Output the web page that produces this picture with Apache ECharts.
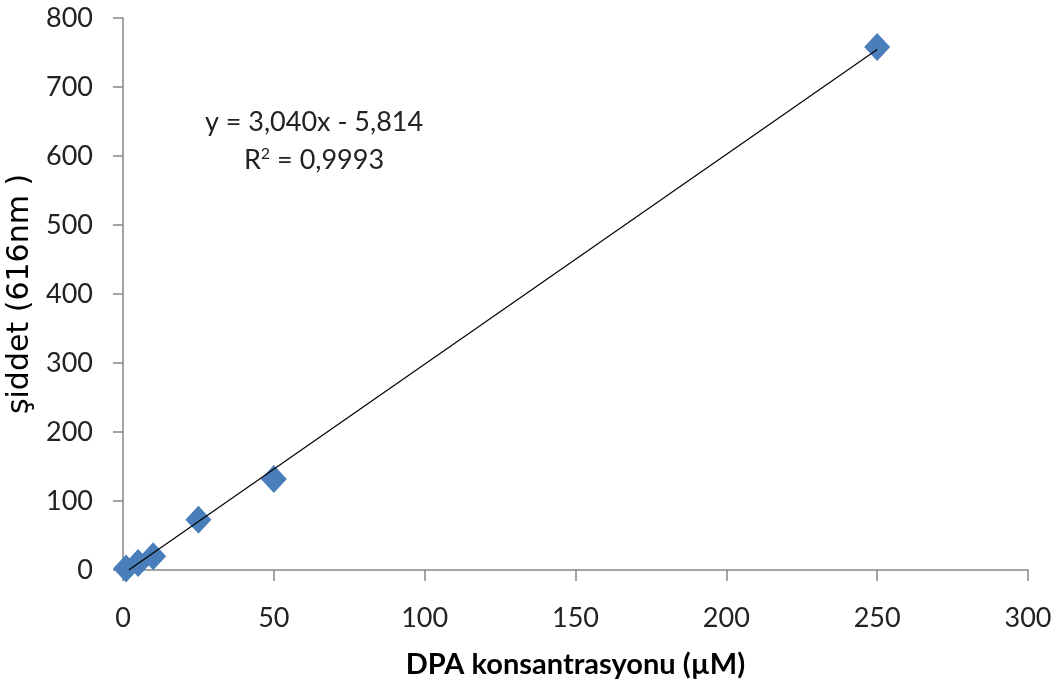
<!DOCTYPE html>
<html><head><meta charset="utf-8">
<script src="https://cdn.jsdelivr.net/npm/echarts@6/dist/echarts.min.js"></script>
<style>html,body{margin:0;padding:0;background:#fff}#c{width:1062px;height:692px}</style>
</head><body><div id="c"></div>
<script>
const concentrations = [1, 5, 10, 25, 50, 250];
const intensities = [2, 10, 20, 73, 132, 758];
const slope = 3.040, intercept = -5.814;
const trendX = [1.91, 250];
const equationLine1 = 'y = 3,040x - 5,814';
const equationLine2 = 'R{sup|2} = 0,9993';

const chart = echarts.init(document.getElementById('c'));
const axisCol = '#868686';
const font = 'Lato, "Open Sans", sans-serif';
chart.setOption({
  animation: false,
  grid: {left: 123, right: 34, top: 18, bottom: 122, containLabel: false, outerBoundsMode: 'none'},
  xAxis: {
    type: 'value', min: 0, max: 300, interval: 50,
    name: 'DPA konsantrasyonu (µM)', nameLocation: 'middle', nameGap: 80,
    nameTextStyle: {fontFamily: font, fontWeight: 'bold', fontSize: 29, color: '#000'},
    axisLine: {lineStyle: {color: axisCol, width: 1.5}},
    axisTick: {show: true, length: 11, lineStyle: {color: axisCol, width: 1.5}},
    axisLabel: {fontFamily: font, fontSize: 27, color: '#222', margin: 35},
    splitLine: {show: false}
  },
  yAxis: {
    type: 'value', min: 0, max: 800, interval: 100,
    name: 'şiddet (616nm )', nameLocation: 'middle', nameGap: 86,
    nameTextStyle: {fontFamily: '"DejaVu Sans", sans-serif', fontSize: 30, color: '#000'},
    axisLine: {show: true, lineStyle: {color: axisCol, width: 1.5}},
    axisTick: {show: true, length: 10, lineStyle: {color: axisCol, width: 1.5}},
    axisLabel: {fontFamily: font, fontSize: 27, color: '#222', margin: 30},
    splitLine: {show: false}
  },
  graphic: [{
    type: 'text', x: 314, y: 122,
    style: {text: equationLine1, fontFamily: font, fontSize: 27, fill: '#222', align: 'center', verticalAlign: 'middle'}
  }, {
    type: 'text', x: 314, y: 160,
    style: {
      text: equationLine2, fontFamily: font, fontSize: 27, fill: '#222', align: 'center', verticalAlign: 'middle',
      rich: {sup: {fontSize: 16, fontFamily: font, fill: '#222', verticalAlign: 'top', padding: [0, 0, 12, 0]}}
    }
  }],
  series: [{
    type: 'line', data: trendX.map(x => [x, slope * x + intercept]),
    showSymbol: false, symbol: 'none', lineStyle: {color: '#000', width: 1.2}, z: 3, silent: true
  }, {
    type: 'scatter', data: concentrations.map((x, i) => [x, intensities[i]]),
    symbol: 'diamond', symbolSize: [26, 28], itemStyle: {color: '#4a7ebb', opacity: 1}, z: 2
  }]
});
</script></body></html>
